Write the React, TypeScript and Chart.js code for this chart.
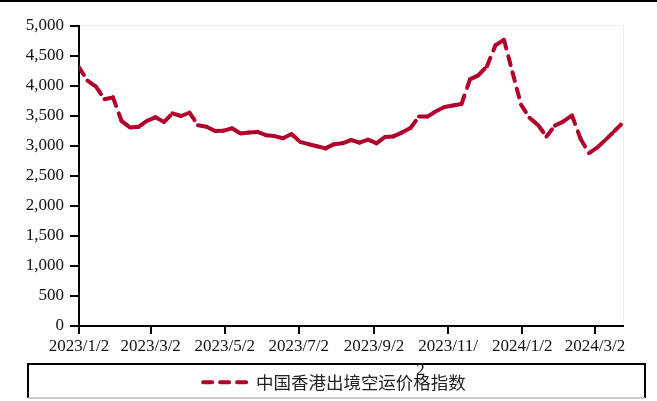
import React, { useEffect, useRef } from 'react';
import { Chart, registerables } from 'chart.js';

Chart.register(...registerables);

// ---- data ----
const seriesName = '中国香港出境空运价格指数';
const firstWeek = '2023/1/2';
// weekly index values, 2023/1/2 .. 2024/3/25
const indexValues = [
  4310, 4090, 3990, 3780, 3810, 3420, 3310, 3320, 3420, 3480,
  3400, 3545, 3500, 3555, 3345, 3320, 3250, 3255, 3295, 3210,
  3225, 3235, 3180, 3165, 3130, 3200, 3070, 3030, 2995, 2960,
  3030, 3045, 3100, 3055, 3105, 3045, 3150, 3160, 3225, 3300,
  3490, 3490, 3580, 3650, 3675, 3700, 4110, 4180, 4330, 4680,
  4770, 4230, 3690, 3470, 3350, 3160, 3340, 3410, 3510, 3120,
  2880, 2980, 3110, 3250, 3390,
];
const tickDates = ['2023/1/2', '2023/3/2', '2023/5/2', '2023/7/2', '2023/9/2', '2023/11/2', '2024/1/2', '2024/3/2'];
const tickLabels: (string | string[])[] = [
  '2023/1/2', '2023/3/2', '2023/5/2', '2023/7/2', '2023/9/2',
  ['2023/11/', '2' + '\u00A0'.repeat(13)],
  '2024/1/2', '2024/3/2',
];
const yMin = 0;
const yMax = 5000;
const yStep = 500;

const lineColor = '#B0002B';
const lineDash = [9, 8];

function toUTC(d: string) {
  const [y, m, day] = d.split('/').map(Number);
  return Date.UTC(y, m - 1, day);
}
function dayIndex(d: string) {
  return Math.round((toUTC(d) - toUTC(firstWeek)) / 86400000);
}

const points = indexValues.map((v, i) => ({ x: i * 7, y: v }));

const framePlugin = {
  id: 'frame',
  beforeDraw(chart: any) {
    const { ctx, chartArea, legend } = chart;
    ctx.save();
    // faint plot-area frame
    ctx.strokeStyle = '#eeeeee';
    ctx.lineWidth = 1;
    ctx.strokeRect(chartArea.left + 0.5, chartArea.top - 0.5, chartArea.right - chartArea.left, chartArea.bottom - chartArea.top);
    // legend box
    const top = legend.top + 0.5;
    const bottom = 398;
    ctx.strokeStyle = '#000';
    ctx.lineWidth = 2;
    ctx.beginPath();
    ctx.moveTo(28, bottom);
    ctx.lineTo(28, top);
    ctx.lineTo(645, top);
    ctx.lineTo(645, bottom);
    ctx.stroke();
    ctx.strokeStyle = '#bbbbbb';
    ctx.lineWidth = 1.5;
    ctx.beginPath();
    ctx.moveTo(28, bottom);
    ctx.lineTo(645, bottom);
    ctx.stroke();
    ctx.restore();
  },
  afterDraw(chart: any) {
    const { ctx, width } = chart;
    ctx.save();
    ctx.fillStyle = '#000';
    ctx.fillRect(0, 0, width, 2);
    ctx.restore();
  },
};

export default function App() {
  const ref = useRef<HTMLCanvasElement>(null);

  useEffect(() => {
    if (!ref.current) return;
    const lastX = (indexValues.length - 1) * 7;
    const chart = new Chart(ref.current, {
      type: 'line',
      data: {
        datasets: [
          {
            label: seriesName,
            data: points,
            borderColor: lineColor,
            backgroundColor: lineColor,
            borderWidth: 4,
            borderDash: lineDash,
            borderCapStyle: 'round',
            borderJoinStyle: 'round',
            pointRadius: 0,
            tension: 0,
            fill: false,
            segment: {
              borderDashOffset: (c: any) => (c.p0DataIndex % 2 ? 0.0001 : 0),
            },
          } as any,
        ],
      },
      options: {
        responsive: false,
        animation: false,
        devicePixelRatio: 1,
        layout: { padding: { left: 12, right: 0, top: 26, bottom: 0 } },
        plugins: {
          tooltip: { enabled: false },
          legend: {
            display: true,
            position: 'bottom',
            align: 'center',
            labels: {
              usePointStyle: true,
              pointStyle: 'line',
              pointStyleWidth: 44,
              color: '#222',
              padding: 10,
              font: { family: '"Noto Sans CJK SC", "Noto Sans", sans-serif', size: 17.5 },
              generateLabels: (c: any) =>
                (Chart.defaults.plugins.legend.labels as any).generateLabels(c).map((item: any) => {
                  const ds: any = c.data.datasets[item.datasetIndex];
                  return {
                    ...item,
                    strokeStyle: ds.borderColor,
                    lineWidth: ds.borderWidth,
                    lineDash: ds.borderDash,
                    lineCap: ds.borderCapStyle,
                  };
                }),
            },
          },
        },
        scales: {
          x: {
            type: 'linear',
            min: 0,
            max: lastX,
            afterBuildTicks: (scale: any) => {
              scale.ticks = tickDates.map((d) => ({ value: dayIndex(d) }));
            },
            afterFit: (scale: any) => {
              scale.height = 37.5;
            },
            afterUpdate: (scale: any) => {
              // let the wrapped second line of a label spill over the legend box, as in the original
              scale._computeLabelArea = () => undefined;
            },
            grid: {
              display: true,
              drawOnChartArea: false,
              drawTicks: true,
              tickLength: 8,
              color: '#000',
              lineWidth: 2,
            },
            border: { display: true, color: '#000', width: 2 },
            ticks: {
              autoSkip: false,
              maxRotation: 0,
              minRotation: 0,
              padding: 1,
              color: '#111',
              font: { family: '"Liberation Serif", "Times New Roman", serif', size: 17, lineHeight: 1.41 },
              callback: (_v: any, i: number) => tickLabels[i],
            },
          },
          y: {
            type: 'linear',
            min: yMin,
            max: yMax,
            afterFit: (scale: any) => {
              scale.width = 67;
            },
            grid: {
              display: true,
              drawOnChartArea: false,
              drawTicks: true,
              tickLength: 9,
              color: '#000',
              lineWidth: 2,
            },
            border: { display: true, color: '#000', width: 2 },
            ticks: {
              stepSize: yStep,
              padding: 6,
              color: '#111',
              font: { family: '"Liberation Serif", "Times New Roman", serif', size: 17 },
              callback: (v: any) => Number(v).toLocaleString('en-US'),
            },
          },
          yRight: {
            type: 'linear',
            position: 'right',
            display: true,
            grid: { display: false, drawTicks: false },
            border: { display: false },
            ticks: { display: false },
            afterFit: (scale: any) => {
              scale.width = 34;
            },
          },
        },
      } as any,
      plugins: [framePlugin],
    });
    return () => chart.destroy();
  }, []);

  return (
    <div style={{ position: 'absolute', left: 0, top: 0, width: 657, height: 401, background: '#fff' }}>
      <canvas ref={ref} width={657} height={401} style={{ width: 657, height: 401, display: 'block' }} />
    </div>
  );
}
